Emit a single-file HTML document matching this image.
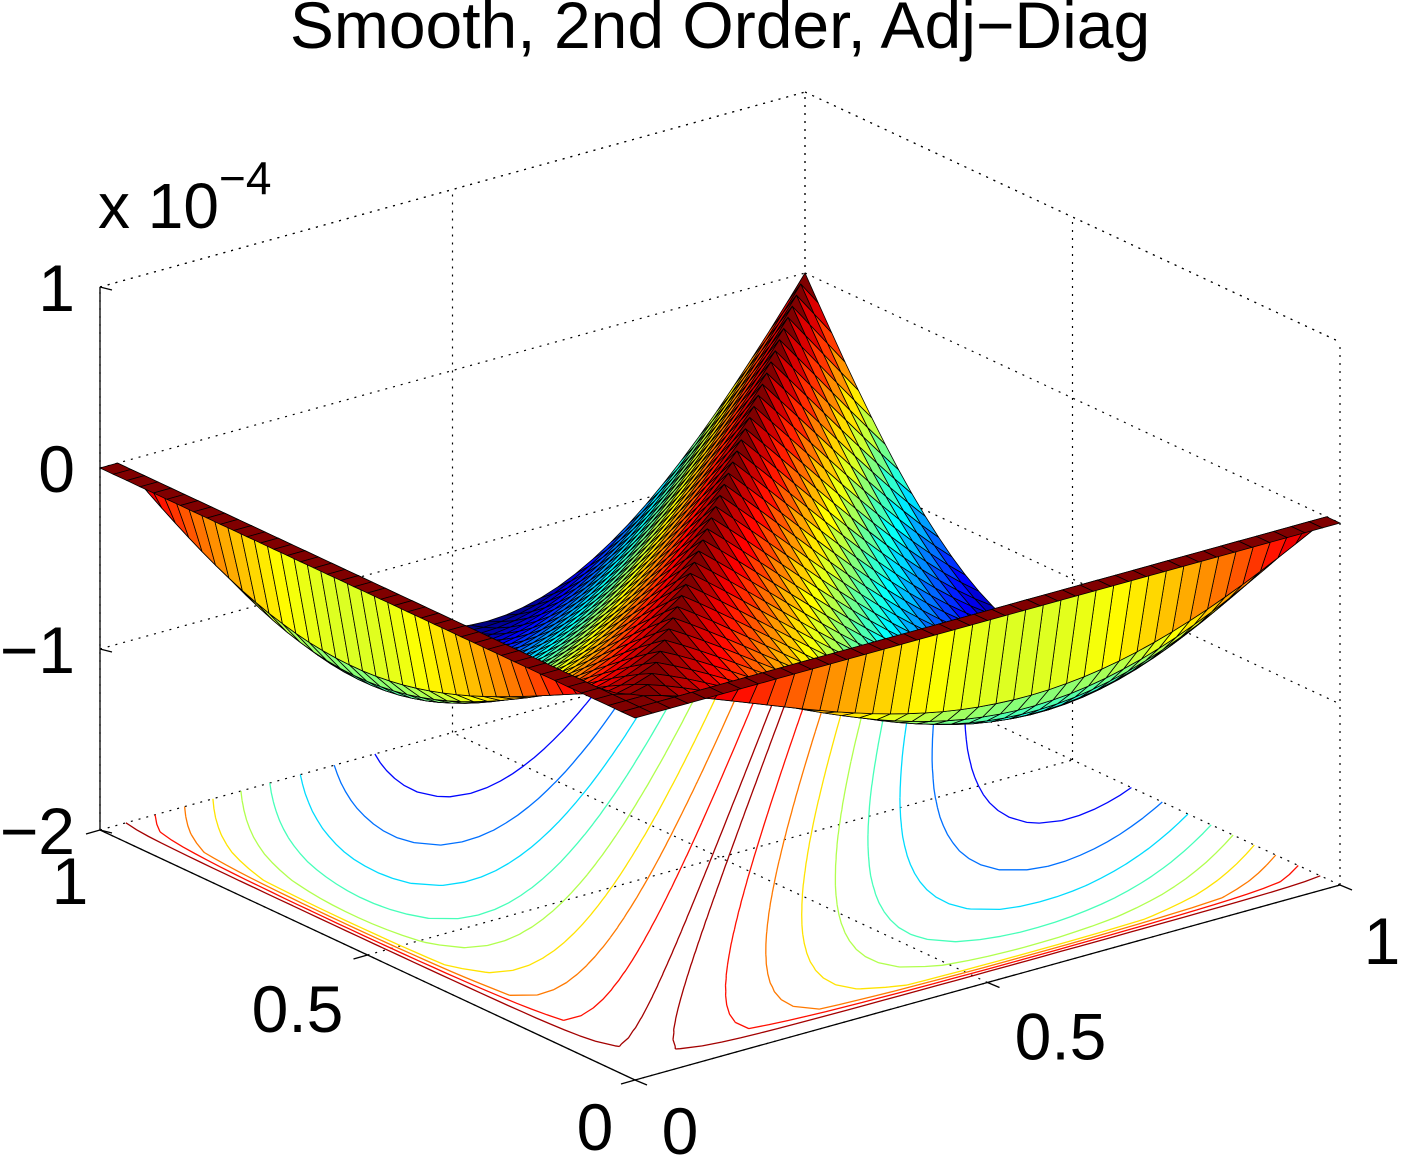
<!DOCTYPE html>
<html><head><meta charset="utf-8"><style>
html,body{margin:0;padding:0;background:#fff;}
svg{display:block;font-family:"Liberation Sans",sans-serif;}
</style></head><body>
<svg id="chart" width="1412" height="1170" viewBox="0 0 1412 1170" xmlns="http://www.w3.org/2000/svg">
<text x="720" y="48" font-size="66" text-anchor="middle">Smooth, 2nd Order, Adj−Diag</text>
<g id="grid"></g>
<g id="contours"></g>
<g id="axes"></g>
<g id="surf"></g>
<text x="98" y="228" font-size="64">x 10<tspan dy="-34" font-size="46">−4</tspan></text>
</svg>
<script>
const zTicks=[-2,-1,0,1];
const zTickLabels=["−2","−1","0","1"];
const uTicks=[0,0.5,1];
const uTickLabels=["0","0.5","1"];
const vTicks=[0,0.5,1];
const vTickLabels=["0","0.5","1"];
const contourLevels=[-1.25,-1.1,-0.95,-0.8,-0.65,-0.5,-0.35,-0.2,-0.05];
const amplitude=[1.7];
const edgePower=[0.25];
const gridN=40;

const NS="http://www.w3.org/2000/svg";
const O=[635,1080], EU=[705,-195], EV=[-535,-250], ZS=181;
function P(u,v,z){return [O[0]+u*EU[0]+v*EV[0], O[1]+u*EU[1]+v*EV[1]-(z+2)*ZS];}
function mk(tag,attrs,parent){const e=document.createElementNS(NS,tag);for(const k in attrs)e.setAttribute(k,attrs[k]);parent.appendChild(e);return e;}
function jet(t){t=Math.max(0,Math.min(1,t));
  const r=Math.max(0,Math.min(1,1.5-Math.abs(4*t-3))),g=Math.max(0,Math.min(1,1.5-Math.abs(4*t-2))),b=Math.max(0,Math.min(1,1.5-Math.abs(4*t-1)));
  return `rgb(${Math.round(r*255)},${Math.round(g*255)},${Math.round(b*255)})`;}
const t0=1/gridN;
function g(t,i){return i<=1?0:Math.pow((t-t0)/(1-t0),edgePower[0]);}
const Z=[];
for(let i=0;i<=gridN;i++){Z.push([]);for(let j=0;j<=gridN;j++){
  const u=i/gridN,v=j/gridN;
  Z[i].push(-amplitude[0]*g(u,i)*g(v,j)*Math.abs(Math.sin(Math.PI*(u-v))));}}
let zmin=0;for(const r of Z)for(const z of r)zmin=Math.min(zmin,z);
const zmax=0;
function col(z){return jet((z-zmin)/(zmax-zmin||1));}

// grid lines
const G=document.getElementById('grid');
function dline(a,b,name){const l=mk('line',{x1:a[0],y1:a[1],x2:b[0],y2:b[1],stroke:'#000','stroke-width':1.2,'stroke-dasharray':'2 6'},G);
 }
for(const z of zTicks){ if(z===-2)continue;
 dline(P(0,1,z),P(1,1,z),'zgrid-back-left');dline(P(1,1,z),P(1,0,z),'zgrid-back-right');}
for(const t of uTicks){dline(P(t,1,-2),P(t,1,1),'ugrid-wall');dline(P(t,0,-2),P(t,1,-2),'ugrid-floor');}
for(const t of vTicks){dline(P(1,t,-2),P(1,t,1),'vgrid-wall');dline(P(0,t,-2),P(1,t,-2),'vgrid-floor');}
dline(P(0,1,1),P(1,1,1),'top-edge');dline(P(1,1,1),P(1,0,1),'top-edge');

// contours (marching squares on floor)
const C=document.getElementById('contours');
for(const L of contourLevels){
 let d='';
 for(let i=0;i<gridN;i++)for(let j=0;j<gridN;j++){
  const c=[[i,j],[i+1,j],[i+1,j+1],[i,j+1]];
  const pts=[];
  for(let k=0;k<4;k++){const a=c[k],b=c[(k+1)%4];const za=Z[a[0]][a[1]],zb=Z[b[0]][b[1]];
   if((za<L)!==(zb<L)){const t=(L-za)/(zb-za);pts.push(P((a[0]+t*(b[0]-a[0]))/gridN,(a[1]+t*(b[1]-a[1]))/gridN,-2));}}
  for(let k=0;k+1<pts.length;k+=2)d+=`M${pts[k][0].toFixed(1)},${pts[k][1].toFixed(1)}L${pts[k+1][0].toFixed(1)},${pts[k+1][1].toFixed(1)}`;
 }
 const path=mk('path',{d:d,stroke:col(L),fill:'none','stroke-width':1.3},C);
 
 
}

// axes
const A=document.getElementById('axes');
function sline(a,b,name){const l=mk('line',{x1:a[0],y1:a[1],x2:b[0],y2:b[1],stroke:'#000','stroke-width':1.3},A);
 }
function txt(x,y,s,name,anchor){const t=mk('text',{x:x,y:y,'font-size':66,'text-anchor':anchor||'middle'},A);t.textContent=s;
 }
sline(P(0,1,-2),P(0,1,1),'z-axis');
sline(P(0,1,-2),P(0,0,-2),'v-axis');
sline(P(0,0,-2),P(1,0,-2),'u-axis');
zTicks.forEach((z,k)=>{const a=P(0,1,z);sline(a,[a[0]+12,a[1]+3],'z-tick');txt(a[0]-25,a[1]+24,zTickLabels[k],'z-tick-label','end');});
const vOff=[[-40,70],[-70,77],[-30,74]];
const uOff=[[45,74],[73,77],[42,79]];
vTicks.forEach((t,k)=>{const a=P(0,t,-2);sline(a,[a[0]-14,a[1]+4],'v-tick');txt(a[0]+vOff[k][0],a[1]+vOff[k][1],vTickLabels[k],'v-tick-label');});
uTicks.forEach((t,k)=>{const a=P(t,0,-2);sline(a,[a[0]+12,a[1]+5],'u-tick');txt(a[0]+uOff[k][0],a[1]+uOff[k][1],uTickLabels[k],'u-tick-label');});

// surface
const S=document.getElementById('surf');
const cells=[];
for(let i=0;i<gridN;i++)for(let j=0;j<gridN;j++)cells.push([i,j]);
cells.sort((a,b)=>(b[0]+b[1])-(a[0]+a[1]));
const frag=document.createDocumentFragment();
for(const [i,j] of cells){
 const cs=[[i,j],[i+1,j],[i+1,j+1],[i,j+1]];
 const pts=cs.map(c=>P(c[0]/gridN,c[1]/gridN,Z[c[0]][c[1]]));
 let zc=Z[i+1][j+1];
 if(i===0||j===0) zc=0;
 const pg=document.createElementNS(NS,'polygon');
 pg.setAttribute('points',pts.map(q=>q[0].toFixed(1)+','+q[1].toFixed(1)).join(' '));
 pg.setAttribute('fill',col(zc));
 pg.setAttribute('stroke','#000');
 pg.setAttribute('stroke-width','0.8');
 
 
 frag.appendChild(pg);
}
S.appendChild(frag);
</script>
</body></html>
